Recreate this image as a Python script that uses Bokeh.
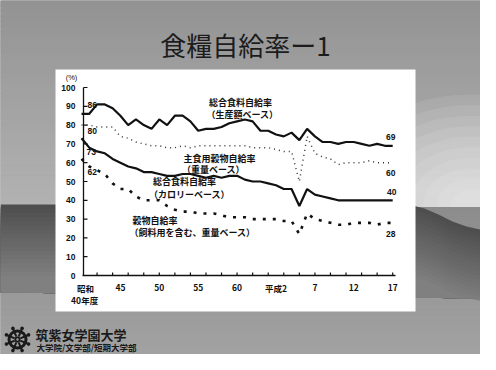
import numpy as np
from bokeh.plotting import figure
from bokeh.models import Range1d
from bokeh.core.properties import value
from bokeh.embed import file_html
from bokeh.resources import INLINE

# ---------------- data ----------------
years = list(range(1965, 2006))
production = [86, 86, 91, 91, 89, 85, 80, 83, 80, 78, 83, 80, 85, 85, 82, 77, 78, 78, 79, 81,
              82, 83, 82, 77, 77, 75, 74, 76, 72, 78, 74, 71, 71, 70, 71, 71, 70, 69, 70, 69, 69]
staple = [80, 80, 79, 79, 79, 74, 73, 71, 70, 69, 69, 68, 68, 69, 68, 69, 69, 69, 69, 69,
          69, 69, 68, 68, 68, 67, 66, 66, 50, 74, 65, 63, 62, 59, 60, 60, 60, 61, 60, 60, 60]
calorie = [73, 68, 66, 65, 62, 60, 58, 57, 55, 55, 54, 53, 53, 54, 54, 53, 52, 53, 52, 53,
           53, 51, 50, 50, 49, 48, 46, 46, 37, 46, 43, 42, 41, 40, 40, 40, 40, 40, 40, 40, 40]
grain = [62, 58, 56, 54, 49, 46, 46, 42, 40, 40, 40, 37, 35, 34, 34, 33, 33, 33, 32, 31,
         31, 31, 30, 30, 30, 30, 29, 29, 22, 33, 30, 29, 28, 27, 27, 28, 28, 28, 27, 28, 28]

y_ticks = [0, 10, 20, 30, 40, 50, 60, 70, 80, 90, 100]
y_tick_labels = ["0", "10", "20", "30", "40", "50", "60", "70", "80", "90", "100"]
x_label_years = [1970, 1975, 1980, 1985, 1990, 1995, 2000, 2005]
x_labels = ["45", "50", "55", "60", "平成2", "7", "12", "17"]
x_minor_ticks = list(range(1967, 2006, 2))

title_text = "食糧自給率ー1"
FONT = "Noto Sans CJK JP"
NUM = "Liberation Sans"

# ---------------- figure ----------------
W, H = 480, 354
# image pixel mapping: img_x = 89 + (year-1965)*7.78 ; img_y = 283 - v*1.88 ; canvas offset 8px
XS, YS = 7.78, 1.88
p = figure(width=W, height=H, output_backend="svg", toolbar_location=None,
           x_range=Range1d(1965 + (8 - 89) / XS, 1965 + (488 - 89) / XS),
           y_range=Range1d((283 - 362) / YS, (283 - 8) / YS),
           x_axis_type=None, y_axis_type=None, min_border=0)
p.extra_x_ranges = {"px": Range1d(8, 488)}
p.extra_y_ranges = {"py": Range1d(362, 8)}
p.outline_line_color = None
p.background_fill_color = "#9a9a9a"
p.border_fill_color = "#9a9a9a"
p.grid.visible = False

PX = dict(x_range_name="px", y_range_name="py")


def mix(c0, c1, t):
    a = np.array([int(c0[i:i + 2], 16) for i in (1, 3, 5)], float)
    b = np.array([int(c1[i:i + 2], 16) for i in (1, 3, 5)], float)
    c = (a + (b - a) * t).round().astype(int)
    return "#%02x%02x%02x" % tuple(c)


def vgrad(x0, x1, y0, y1, c0, c1, n=30):
    ys = np.linspace(y0, y1, n + 1)
    cols = [mix(c0, c1, t) for t in np.linspace(0, 1, n)]
    p.quad(left=x0, right=x1, top=ys[:-1], bottom=ys[1:], fill_color=cols,
           line_color=cols, line_width=1, **PX)


# ---------------- slide background ----------------
vgrad(8, 488, 8, 215, "#939393", "#b2b2b2", 40)
# soft light glow at right
for i, r in enumerate(np.linspace(110, 15, 10)):
    p.ellipse(x=478, y=212, width=2 * r * 1.3, height=2 * r, fill_color="white",
              fill_alpha=0.09, line_color=None, **PX)
vgrad(8, 488, 215, 362, "#8c8c8c", "#a2a2a2", 30)

# dark swoosh
wx = np.array([8, 200, 420, 432, 446, 460, 474, 488], float)
wy = np.array([212, 212, 213, 216, 222, 229, 234, 237], float)
nl = 18
for k in range(nl):
    t = k / (nl - 1)
    off = k * 4.2
    col = mix("#4e4e4e", "#808080", t)
    xs = list(wx) + [488, 8]
    ys = list(wy + off) + [306, 300]
    p.patch(x=xs, y=ys, fill_color=col, line_color=None, **PX)

# ---------------- chart white panel ----------------
p.quad(left=63, right=423, top=77, bottom=319, fill_color="white", line_color=None, **PX)

# title
p.text(x=[253], y=[52], text=[title_text], text_font=value(FONT), text_font_size="26px",
       text_color="#1c1c1c", text_align="center", text_baseline="middle", **PX)

# ---------------- axes (drawn through the scales) ----------------
p.segment(x0=[91], x1=[91], y0=[0], y1=[100], line_color="#111111", line_width=1.3,
          x_range_name="px")
p.segment(x0=[90], x1=[403], y0=[0], y1=[0], line_color="#111111", line_width=1.3,
          x_range_name="px")
p.segment(x0=[91] * len(y_ticks), x1=[95] * len(y_ticks), y0=y_ticks, y1=y_ticks,
          line_color="#111111", line_width=1.2, x_range_name="px")
p.segment(x0=x_minor_ticks, x1=x_minor_ticks, y0=[283] * len(x_minor_ticks),
          y1=[280] * len(x_minor_ticks), line_color="#111111", line_width=1.2,
          y_range_name="py")
p.text(x=[83] * len(y_ticks), y=y_ticks, text=y_tick_labels, text_font=value(NUM),
       text_font_style="bold", text_font_size="8.5px", text_color="#111111",
       text_align="right", text_baseline="middle", x_range_name="px")
p.text(x=[79], y=[85], text=["(%)"], text_font=value(NUM), text_font_size="7.5px",
       text_color="#111111", text_align="center", text_baseline="middle", **PX)
p.text(x=x_label_years, y=[295] * len(x_labels), text=x_labels, text_font=value(FONT),
       text_font_style="bold", text_font_size="8.5px", text_color="#111111",
       text_align="center", text_baseline="middle", y_range_name="py")
p.text(x=[1965.5, 1965.4], y=[295, 307], text=["昭和", "40年度"], text_font=value(FONT),
       text_font_style="bold", text_font_size="8.5px", text_color="#111111",
       text_align="center", text_baseline="middle", y_range_name="py")

# ---------------- series ----------------
p.line(years, production, line_color="#111111", line_width=2.2)
p.line(years, staple, line_color="#333333", line_width=1.5, line_dash="1 4")
p.line(years, calorie, line_color="#111111", line_width=2.2)
p.line(years, grain, line_color="#111111", line_width=2.6, line_dash="3 7")

# start / end values
p.text(x=[95, 95, 94, 95], y=[112, 138, 159, 179],
       text=[str(production[0]), str(staple[0]), str(calorie[0]), str(grain[0])],
       text_font=value(NUM), text_font_style="bold", text_font_size="8.5px",
       text_color="#111111", text_align="left", text_baseline="middle", **PX)
p.text(x=[403, 403, 404, 403], y=[144, 180, 199, 241],
       text=[str(production[-1]), str(staple[-1]), str(calorie[-1]), str(grain[-1])],
       text_font=value(NUM), text_font_style="bold", text_font_size="8.5px",
       text_color="#111111", text_align="right", text_baseline="middle", **PX)

# series annotations
ann_x = [248, 250, 227, 221, 192, 197]
ann_y = [110, 122, 166, 177, 189, 202]
ann_t = ["総合食料自給率", "（生産額ベース）", "主食用穀物自給率", "（重量ベース）",
         "総合食料自給率", "（カロリーベース）"]
p.text(x=ann_x, y=ann_y, text=ann_t, text_font=value(FONT), text_font_style="bold",
       text_font_size="9px", text_color="#111111", text_align="center",
       text_baseline="middle", **PX)
p.text(x=[140, 137], y=[228, 240], text=["穀物自給率", "（飼料用を含む、重量ベース）"],
       text_font=value(FONT), text_font_style="bold", text_font_size="9px",
       text_color="#111111", text_align="left", text_baseline="middle", **PX)

# ---------------- logo ----------------
cx, cy = 25, 347
ang = np.linspace(0, 2 * np.pi, 8, endpoint=False) + np.pi / 8
p.segment(x0=cx + 3 * np.cos(ang), y0=cy + 3 * np.sin(ang), x1=cx + 11 * np.cos(ang),
          y1=cy + 11 * np.sin(ang), line_color="#1a1a1a", line_width=2, **PX)
p.annulus(x=[cx], y=[cy], inner_radius=7, outer_radius=10, fill_color="#1a1a1a",
          line_color=None, **PX)
p.circle(x=cx + 12 * np.cos(ang), y=cy + 12 * np.sin(ang), radius=1.8,
         fill_color="#1a1a1a", line_color=None, **PX)
p.circle(x=[cx], y=[cy], radius=3, fill_color="#1a1a1a", line_color=None, **PX)
p.circle(x=[cx], y=[cy], radius=1.2, fill_color="#9a9a9a", line_color=None, **PX)
p.text(x=[43], y=[342], text=["筑紫女学園大学"], text_font=value(FONT),
       text_font_style="bold", text_font_size="13px", text_color="#1a1a1a",
       text_align="left", text_baseline="middle", **PX)
p.text(x=[44], y=[354], text=["大学院/文学部/短期大学部"], text_font=value(FONT),
       text_font_style="bold", text_font_size="8.5px", text_color="#1a1a1a",
       text_align="left", text_baseline="middle", **PX)

open("out.html", "w").write(file_html(p, INLINE))
